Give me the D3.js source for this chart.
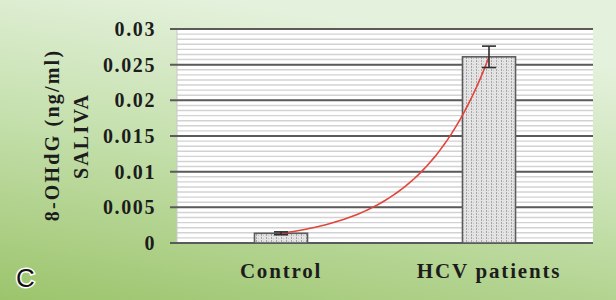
<!DOCTYPE html>
<html>
<head>
<meta charset='utf-8' />
<title></title>
<style>
  body{ margin:0; }
  svg{ display:block; }
</style>
</head>
<body>
<script src="https://d3js.org/d3.v7.min.js"></script>
<script>

// data
let groups = ['Control', 'HCV patients']
let means = [0.00136, 0.0261]
let errors = [0.0002, 0.0015]
let yTicks = [0, 0.005, 0.01, 0.015, 0.02, 0.025, 0.03]
let yTickLabels = ['0', '0.005', '0.01', '0.015', '0.02', '0.025', '0.03']

let width = 616, height = 300,
  pLeft = 177, pRight = 593, pTop = 29, pBottom = 243,
  serif = 'Liberation Serif, DejaVu Serif, Times New Roman, Times, serif'

let svg = d3.select('body').append('svg').attr('width', width).attr('height', height)
let defs = svg.append('defs')

// green page background
let grad = defs.append('linearGradient').attr('id', 'bg')
  .attr('x1', 0.35).attr('y1', 0).attr('x2', 0).attr('y2', 1)
grad.append('stop').attr('offset', '0%').attr('stop-color', '#e4f1dc')
grad.append('stop').attr('offset', '45%').attr('stop-color', '#c5e0ad')
grad.append('stop').attr('offset', '100%').attr('stop-color', '#9cc46c')
svg.append('rect').attr('width', width).attr('height', height).style('fill', 'url(#bg)')

// dotted bar fill
let pat = defs.append('pattern').attr('id', 'dots').attr('patternUnits', 'userSpaceOnUse')
  .attr('width', 5).attr('height', 3)
pat.append('rect').attr('width', 5).attr('height', 3).style('fill', '#e4e4e4')
pat.append('rect').attr('x', 1).attr('y', 0).attr('width', 1).attr('height', 2).style('fill', '#a5a5a5')
pat.append('rect').attr('x', 3).attr('y', 1).attr('width', 1).attr('height', 1).style('fill', '#c4c4c4')

let x = d3.scaleBand().domain(groups).range([pLeft, pRight]).paddingInner(0.745).paddingOuter(0.3725)
let y = d3.scaleLinear().domain([0, 0.03]).range([pBottom, pTop])

// plot area
svg.append('rect').attr('x', pLeft).attr('y', pTop).attr('width', pRight - pLeft).attr('height', pBottom - pTop)
  .style('fill', '#ffffff')

// minor grid
let minor = d3.range(0, 0.03, 0.005 / 7)
svg.append('g').selectAll('line').data(minor).enter().append('line')
  .attr('x1', pLeft).attr('x2', pRight)
  .attr('y1', d => y(d)).attr('y2', d => y(d))
  .style('stroke', '#d2d2d2').style('stroke-width', 1.4)

svg.append('line').attr('x1', pLeft).attr('x2', pLeft).attr('y1', pTop).attr('y2', pBottom)
  .style('stroke', '#c8c8c8').style('stroke-width', 1)

// major grid + ticks
let major = svg.append('g')
major.selectAll('line').data(yTicks).enter().append('line')
  .attr('x1', pLeft - 7).attr('x2', pRight)
  .attr('y1', d => y(d)).attr('y2', d => y(d))
  .style('stroke', '#5a5a5a').style('stroke-width', 2)

major.selectAll('text').data(yTicks).enter().append('text')
  .attr('x', pLeft - 21).attr('y', d => y(d)).attr('dy', '0.35em')
  .attr('text-anchor', 'end')
  .style('font-family', serif).style('font-weight', 'bold').style('fill', '#1c1c1c')
  .style('font-size', '20px').style('letter-spacing', '1.6px')
  .text((d, i) => yTickLabels[i])

// bars
svg.append('g').selectAll('rect').data(means).enter().append('rect')
  .attr('x', (d, i) => x(groups[i])).attr('width', x.bandwidth())
  .attr('y', d => y(d)).attr('height', d => pBottom - y(d))
  .style('fill', 'url(#dots)').style('stroke', '#5c5c5c').style('stroke-width', 1.6)

// exponential trendline through the two means
let b = Math.log(means[1] / means[0]), a = means[0] / Math.exp(b)
let cx = t => x(groups[0]) + x.bandwidth() / 2 + (t - 1) * x.step()
let pts = d3.range(1, 2.001, 0.02).map(t => [cx(t), y(a * Math.exp(b * t))])
svg.append('path').attr('d', d3.line()(pts))
  .style('fill', 'none').style('stroke', '#e2433a').style('stroke-width', 1.6)

// error bars
let eb = svg.append('g').style('stroke', '#2e2e2e').style('stroke-width', 1.6)
means.forEach((m, i) => {
  let c = x(groups[i]) + x.bandwidth() / 2
  eb.append('line').attr('x1', c).attr('x2', c).attr('y1', y(m + errors[i])).attr('y2', y(m - errors[i]))
  eb.append('line').attr('x1', c - 7).attr('x2', c + 7).attr('y1', y(m + errors[i])).attr('y2', y(m + errors[i]))
  eb.append('line').attr('x1', c - 7).attr('x2', c + 7).attr('y1', y(m - errors[i])).attr('y2', y(m - errors[i]))
})

// x labels
svg.append('g').selectAll('text').data(groups).enter().append('text')
  .attr('x', d => x(d) + x.bandwidth() / 2).attr('y', 278)
  .attr('text-anchor', 'middle')
  .style('font-family', serif).style('font-weight', 'bold').style('fill', '#1c1c1c')
  .style('font-size', '21px').style('letter-spacing', '1.8px')
  .text(d => d)

// y title
svg.append('text').attr('transform', 'translate(59,135) rotate(-90)')
  .attr('text-anchor', 'middle')
  .style('font-family', serif).style('font-weight', 'bold').style('fill', '#1c1c1c')
  .style('font-size', '20px').style('letter-spacing', '2.2px')
  .text('8-OHdG (ng/ml)')
svg.append('text').attr('transform', 'translate(88,136) rotate(-90)')
  .attr('text-anchor', 'middle')
  .style('font-family', serif).style('font-weight', 'bold').style('fill', '#1c1c1c')
  .style('font-size', '20px').style('letter-spacing', '2.2px')
  .text('SALIVA')

// panel letter
svg.append('text').attr('x', 16).attr('y', 287)
  .style('font-family', 'Liberation Sans, Arial, sans-serif')
  .style('font-size', '26px').style('fill', '#111')
  .style('stroke', '#ffffff').style('stroke-width', 3).style('paint-order', 'stroke')
  .text('C')

</script>
</body>
</html>
